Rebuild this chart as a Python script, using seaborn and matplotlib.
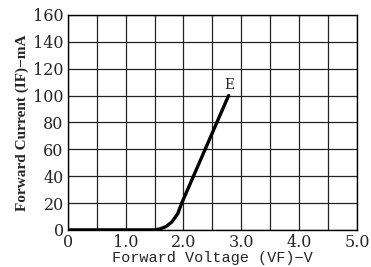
import numpy as np
import pandas as pd
import seaborn as sns
import matplotlib.pyplot as plt

# data
voltage = [0.0, 1.0, 1.5, 1.6, 1.7, 1.8, 1.9, 1.97, 2.78]
current = [0.0, 0.0, 0.0, 0.8, 2.5, 6.0, 12.0, 20.0, 100.0]
x_ticks = np.arange(0, 5.01, 0.5)
x_labels = ["0", "", "1.0", "", "2.0", "", "3.0", "", "4.0", "", "5.0"]
y_ticks = np.arange(0, 161, 20)

sns.set_style("white")
plt.rcParams['font.family'] = ['DejaVu Serif']

df = pd.DataFrame({"VF": voltage, "IF": current})

fig = plt.figure(figsize=(3.71, 2.67), dpi=100)
ax = fig.add_axes([0.183, 0.139, 0.779, 0.805])

sns.lineplot(data=df, x="VF", y="IF", ax=ax, color="black", linewidth=2.4)

ax.set_xlim(0, 5)
ax.set_ylim(0, 160)
ax.set_xticks(x_ticks)
ax.set_xticklabels(x_labels)
ax.set_yticks(y_ticks)
ax.tick_params(length=0, labelsize=11.5, pad=3)
ax.grid(True, color="#222222", linewidth=0.9)
for s in ax.spines.values():
    s.set_color("black")
    s.set_linewidth(1.0)

ax.text(2.80, 108, "E", ha="center", va="center", fontsize=10)

ax.set_xlabel("Forward Voltage (VF)\u2212V", family="Liberation Mono",
              fontsize=11, labelpad=0)
ax.set_ylabel("Forward Current (IF)\u2212mA", family="Liberation Serif",
              fontweight="bold", fontsize=11, labelpad=3)

plt.savefig("out.png", dpi=100)
